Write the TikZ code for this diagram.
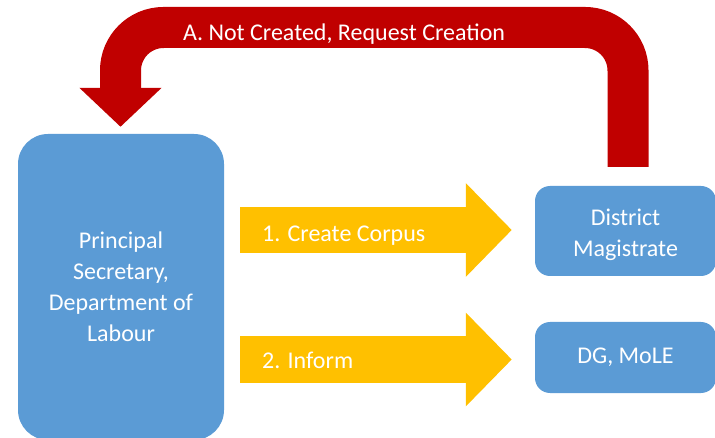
\documentclass[tikz,border=0pt]{standalone}
\usepackage{fontspec}
\setmainfont{Carlito}
\usetikzlibrary{arrows.meta,calc}
\definecolor{boxblue}{HTML}{5B9BD5}
\definecolor{flowgold}{HTML}{FFC000}
\definecolor{loopred}{HTML}{C00000}
\tikzset{
	office/.style={fill=boxblue,rounded corners=#1,text=white,align=center,inner sep=0pt},
	flow/.style={draw=flowgold,line width=46pt,line cap=butt,-{Triangle[width=91pt,length=46pt]}},
	loopback/.style={draw=loopred,line width=41pt,line cap=butt,rounded corners=43pt,-{Triangle[width=80pt,length=39pt]}},
	lbl/.style={text=white,inner sep=0pt}
}
\begin{document}
\begin{tikzpicture}[x=1pt,y=-1pt,font=\fontsize{24}{31}\selectfont]
	\useasboundingbox (0,0) rectangle (715,438);
	% offices
	\node[office=30pt,minimum width=206pt,minimum height=306pt] (psl) at (121,287) {Principal\\Secretary,\\Department of\\Labour};
	\node[office=15pt,minimum width=181pt,minimum height=90pt] (dm) at (625.5,231) {\raisebox{-3.5pt}[\height][\depth]{\begin{tabular}{@{}c@{}}District\\Magistrate\end{tabular}}};
	\node[office=15pt,minimum width=181pt,minimum height=71pt] (dg) at (625.5,357.5) {DG, MoLE};
	% forward flows
	\coordinate (c1s) at ($(psl.east |- 0,230)+(16,0)$);
	\coordinate (c1e) at ($(dm.west |- 0,230)+(-23,0)$);
	\coordinate (c2s) at ($(psl.east |- 0,359.5)+(16,0)$);
	\coordinate (c2e) at ($(dg.west |- 0,359.5)+(-23,0)$);
	\draw[flow] (c1s) -- (c1e);
	\draw[flow] (c2s) -- (c2e);
	\node[lbl,anchor=base west] (f1) at (262,242) {1. Create Corpus};
	\node[lbl,anchor=base west] (f2) at (262,369) {2. Inform};
	% request back
	\coordinate (rs) at ($(dm.north)+(2.5,-19)$);
	\coordinate (rt) at ($(psl.north)+(-0.5,-7)$);
	\draw[loopback] (rs) -- (rs |- 0,27.5) -- (rt |- 0,27.5) -- (rt);
	\node[lbl,anchor=base] (req) at (344,41) {A. Not Created, Request Creation};
\end{tikzpicture}
\end{document}
